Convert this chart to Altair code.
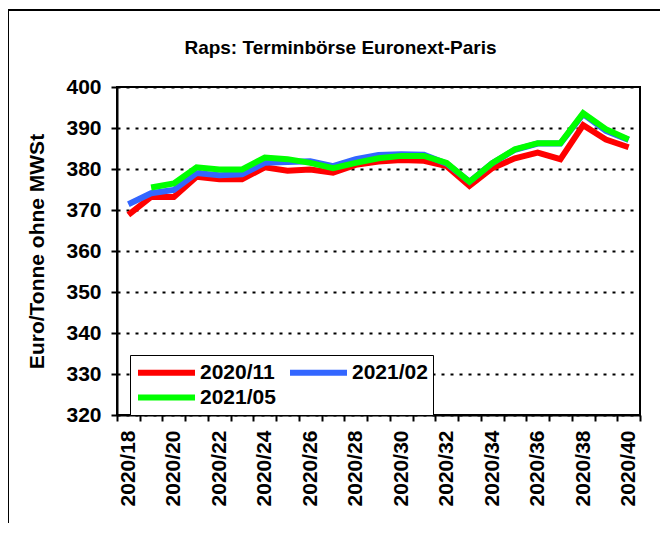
import altair as alt
import pandas as pd

weeks = [f"2020/{w}" for w in range(18, 41)]
series_names = ["2020/11", "2021/02", "2021/05"]
red = [368.8, 373.2, 373.2, 378.1, 377.5, 377.5, 380.4, 379.6, 379.9, 379.1, 381.0, 381.8,
       382.2, 382.0, 380.7, 375.9, 380.2, 382.6, 384.0, 382.4, 390.7, 387.2, 385.3]
blue = [371.4, 374.1, 374.9, 379.0, 378.5, 378.7, 381.5, 381.7, 381.9, 380.7, 382.4, 383.4,
        383.6, 383.5, 381.3, 376.9, 381.4, 384.7, 386.2, 386.2, 393.4, 389.3, 387.1]
green = [None, 375.5, 376.5, 380.4, 379.9, 379.9, 382.8, 382.4, 381.5, 380.2, 381.5, 382.6,
         383.2, 383.2, 381.5, 376.9, 381.4, 384.8, 386.3, 386.3, 393.6, 389.7, 387.2]
colors = ["#ff0000", "#3366ff", "#00ff00"]
y_ticks = [320, 330, 340, 350, 360, 370, 380, 390, 400]

rows = []
for name, vals in zip(series_names, [red, blue, green]):
    for wk, v in zip(weeks, vals):
        if v is not None:
            rows.append({"Woche": wk, "Kontrakt": name, "Preis": v})
df = pd.DataFrame(rows)

FONT = "Liberation Sans"

frame = alt.Chart(pd.DataFrame({"a": [0]})).mark_rect(
    filled=False, stroke="black", strokeWidth=2
).encode(
    x=alt.value(-109), y=alt.value(-77), x2=alt.value(700), y2=alt.value(600)
)

lines = alt.Chart(df).mark_line(strokeWidth=6).encode(
    x=alt.X("Woche:N", sort=weeks,
            scale=alt.Scale(domain=weeks, paddingInner=0, paddingOuter=0),
            axis=alt.Axis(title=None, labelAngle=270, tickBand="extent",
                          labelExpr="round(datum.index * 22) % 2 == 0 ? datum.label : ''",
                          labelOverlap=False, labelFont=FONT, labelFontSize=21,
                          labelFontWeight="bold", labelColor="black", labelPadding=9,
                          tickSize=6, tickColor="black", tickWidth=2,
                          domainColor="black", domainWidth=2, grid=False)),
    y=alt.Y("Preis:Q",
            scale=alt.Scale(domain=[320, 400], nice=False, zero=False),
            axis=alt.Axis(title="Euro/Tonne ohne MWSt", values=y_ticks,
                          labelFont=FONT, labelFontSize=21, labelFontWeight="bold",
                          labelColor="black", labelPadding=10,
                          tickSize=6, tickColor="black", tickWidth=2,
                          domainColor="black", domainWidth=2,
                          grid=True, gridColor="black", gridDash=[3, 6], gridWidth=2,
                          titleFont=FONT, titleFontSize=21, titleFontWeight="bold",
                          titleColor="black", titlePadding=18)),
    color=alt.Color("Kontrakt:N",
                    scale=alt.Scale(domain=series_names, range=colors),
                    legend=alt.Legend(orient="none", legendX=13, legendY=268, columns=2,
                                      direction="horizontal",
                                      title=None, symbolType="M-1,0H5", symbolSize=361,
                                      symbolStrokeWidth=6, labelFont=FONT, labelFontSize=21,
                                      labelFontWeight="bold", labelColor="black",
                                      labelOffset=40, strokeColor="black", fillColor="white",
                                      padding=5, columnPadding=2, rowPadding=-8)),
)

chart = alt.layer(frame, lines).properties(
    width=523, height=328,
    title=alt.TitleParams("Raps: Terminbörse Euronext-Paris", anchor="middle", frame="group",
                          dx=-38, offset=-49, font=FONT,
                          fontSize=19, fontWeight="bold", color="black"),
    padding={"left": 109, "top": 79, "right": 20, "bottom": 108},
    autosize=alt.AutoSizeParams(type="none"),
).configure_view(stroke="black", strokeWidth=2)

chart.save("out.html", embed_options={"renderer": "svg", "actions": False})
